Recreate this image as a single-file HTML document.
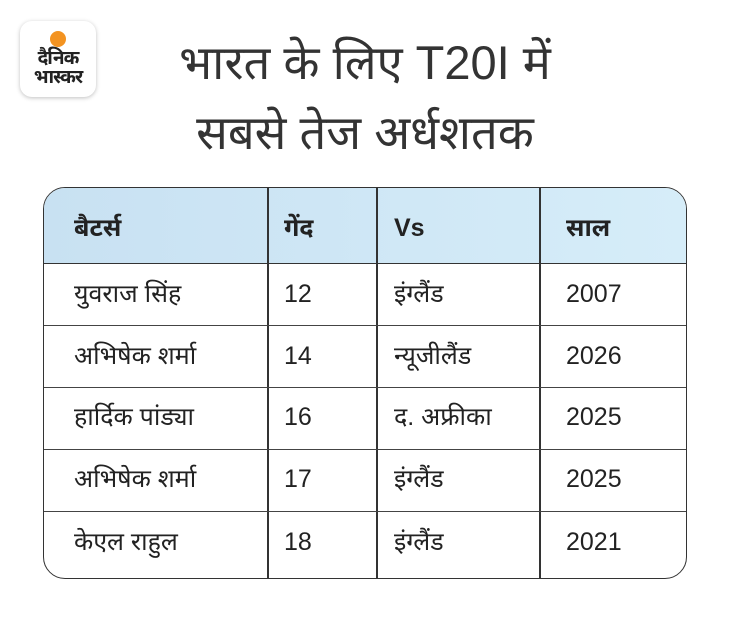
<!DOCTYPE html>
<html><head><meta charset="utf-8"><style>
body{margin:0;width:730px;height:617px;background:#fff;font-family:"Liberation Sans","Noto Sans Devanagari",sans-serif;color:#222;position:relative;overflow:hidden}
.logo{position:absolute;left:20px;top:21px;width:76px;height:76px;border-radius:12px;background:#fff;box-shadow:0 1px 4px rgba(0,0,0,.25);text-align:center}
.logo .dot{width:16px;height:16px;border-radius:50%;background:#f39321;margin:10px auto 2px}
.logo .t{font-size:19px;font-weight:bold;line-height:19px;color:#222;letter-spacing:-1px}
.title{position:absolute;left:75px;width:580px;top:28px;text-align:center;font-size:47px;line-height:70px;color:#333}
.tbl{position:absolute;left:43px;top:187px;width:642px;height:390px;border:1.5px solid #333;border-radius:22px;overflow:hidden}
.hdr{position:absolute;left:0;top:0;right:0;height:75px;background:linear-gradient(90deg,#c8e1f2,#d6edf9);border-bottom:1.5px solid #333}
.v{position:absolute;top:0;bottom:0;width:1.5px;background:#333}
.h{position:absolute;left:0;right:0;height:1px;background:#444}
.c{position:absolute;font-size:25px;line-height:30px;color:#222}
.b{font-weight:bold}
</style></head><body>
<div class="logo"><div class="dot"></div><div class="t">दैनिक<br>भास्कर</div></div>
<div class="title">भारत के लिए T20I में<br>सबसे तेज अर्धशतक</div>
<div class="tbl">
<div class="hdr"></div>
<div class="v" style="left:223px"></div><div class="v" style="left:332px"></div><div class="v" style="left:495px"></div>
<div class="h" style="top:137px"></div><div class="h" style="top:199px"></div><div class="h" style="top:261px"></div><div class="h" style="top:323px"></div>
<div class="c b" style="left:30px;top:25px">बैटर्स</div><div class="c b" style="left:240px;top:25px">गेंद</div><div class="c b" style="left:350px;top:25px">Vs</div><div class="c b" style="left:522px;top:25px">साल</div>
<div class="c" style="left:30px;top:91px">युवराज सिंह</div><div class="c" style="left:240px;top:91px">12</div><div class="c" style="left:350px;top:91px">इंग्लैंड</div><div class="c" style="left:522px;top:91px">2007</div>
<div class="c" style="left:30px;top:153px">अभिषेक शर्मा</div><div class="c" style="left:240px;top:153px">14</div><div class="c" style="left:350px;top:153px">न्यूजीलैंड</div><div class="c" style="left:522px;top:153px">2026</div>
<div class="c" style="left:30px;top:214px">हार्दिक पांड्या</div><div class="c" style="left:240px;top:214px">16</div><div class="c" style="left:350px;top:214px">द. अफ्रीका</div><div class="c" style="left:522px;top:214px">2025</div>
<div class="c" style="left:30px;top:276px">अभिषेक शर्मा</div><div class="c" style="left:240px;top:276px">17</div><div class="c" style="left:350px;top:276px">इंग्लैंड</div><div class="c" style="left:522px;top:276px">2025</div>
<div class="c" style="left:30px;top:339px">केएल राहुल</div><div class="c" style="left:240px;top:339px">18</div><div class="c" style="left:350px;top:339px">इंग्लैंड</div><div class="c" style="left:522px;top:339px">2021</div>
</div>
</body></html>
